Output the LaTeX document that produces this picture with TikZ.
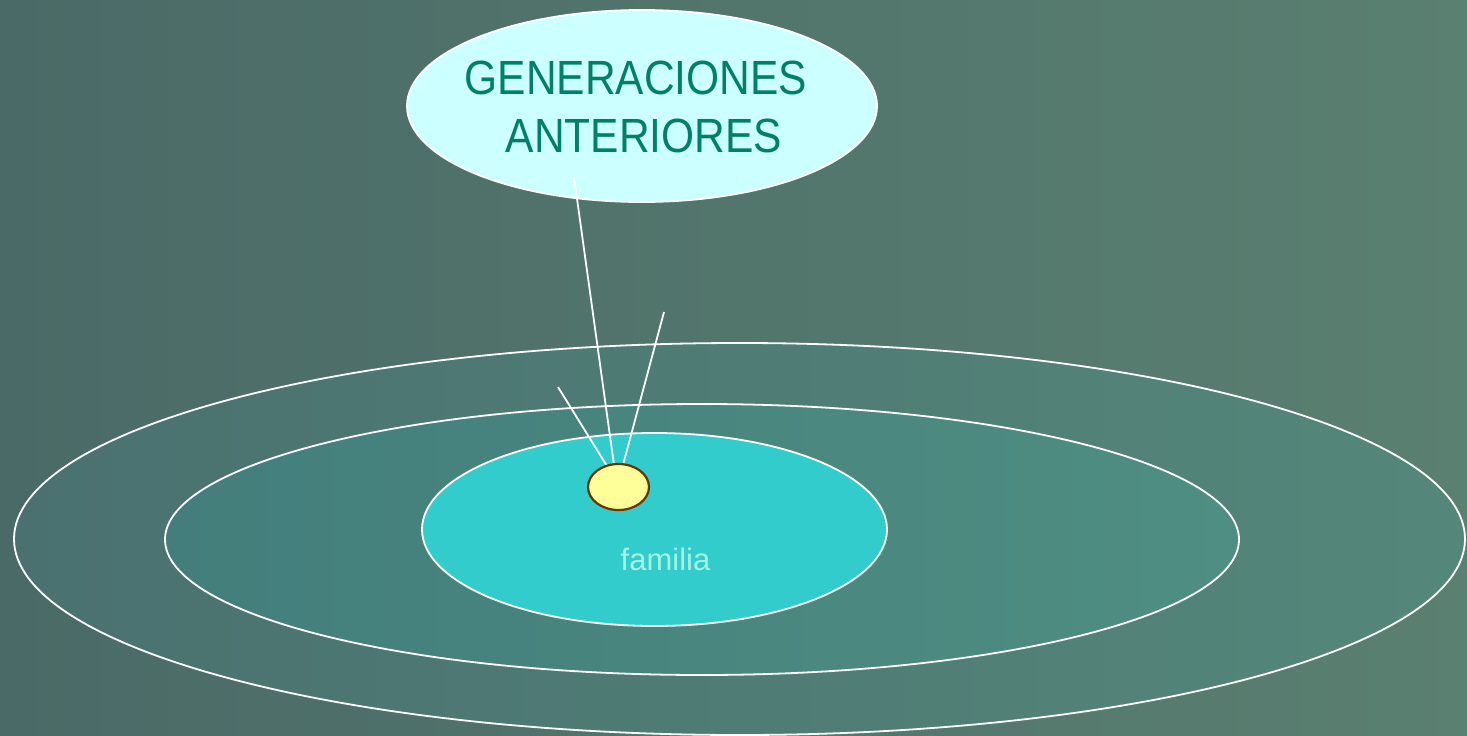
\documentclass[tikz,border=0pt]{standalone}
\usepackage{fontspec}
\setmainfont{Liberation Sans}
\usetikzlibrary{shapes.geometric}
\definecolor{bgL}{HTML}{4A6A67}
\definecolor{bgR}{HTML}{5A8071}
\definecolor{outL}{HTML}{4A7170}
\definecolor{outR}{HTML}{54877A}
\definecolor{midL}{HTML}{437E7C}
\definecolor{midR}{HTML}{4F8E82}
\definecolor{famfill}{HTML}{33CCCC}
\definecolor{genfill}{HTML}{CCFFFF}
\definecolor{gentext}{HTML}{008068}
\definecolor{famtext}{HTML}{A6F2E2}
\definecolor{sunfill}{HTML}{FFFF99}
\definecolor{sunedge}{HTML}{6B3300}
\tikzset{
  ring/.style={ellipse, draw=white, line width=1.8pt, inner sep=0pt},
  ray/.style={draw=white, line width=1.8pt},
}
\begin{document}
\begin{tikzpicture}[x=1pt,y=-1pt]
\shade[left color=bgL, right color=bgR] (0,0) rectangle (1467,736);
\useasboundingbox (0,0) rectangle (1467,736);
\node[ring, minimum width=1451, minimum height=392, left color=outL, right color=outR] (outer) at (739.5,539) {};
\node[ring, minimum width=1074, minimum height=271, left color=midL, right color=midR] (middle) at (702,539.5) {};
\node[ring, minimum width=465, minimum height=193, fill=famfill] (inner) at (654.5,529.5) {};
\node[anchor=base, text=famtext, inner sep=0pt, font=\fontsize{31}{36}\selectfont] (fam) at (665.5,570) {familia};
\node[ring, minimum width=470, minimum height=192, fill=genfill] (gen) at (642,106) {};
\node[text=gentext, align=center, inner sep=0pt, xscale=0.885, font=\fontsize{48}{58}\selectfont] (gentxt) at (636,107) {GENERACIONES\\ \hspace*{18pt}ANTERIORES};
\coordinate (r1) at (574,177);
\coordinate (r2) at (664,312);
\coordinate (r3) at (558,387);
\coordinate (e1) at (614,465);
\coordinate (e2) at (623,465);
\coordinate (e3) at (607,466);
\draw[ray] (r1) -- (e1);
\draw[ray] (r2) -- (e2);
\draw[ray] (r3) -- (e3);
\node[ellipse, draw=sunedge, line width=2.2pt, fill=sunfill, minimum width=61, minimum height=46, inner sep=0pt] (sun) at (618.5,487) {};
\end{tikzpicture}
\end{document}
